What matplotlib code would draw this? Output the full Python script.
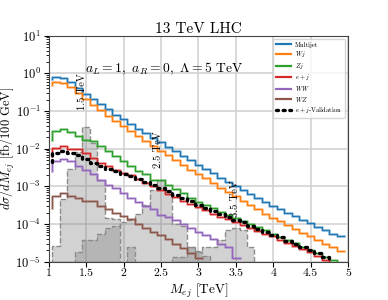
import numpy as np
import matplotlib
matplotlib.use('Agg')
import matplotlib.pyplot as plt

plt.rcParams['font.family'] = 'serif'
plt.rcParams['font.serif'] = ['cmr10', 'DejaVu Serif']
plt.rcParams['mathtext.fontset'] = 'cm'
plt.rcParams['axes.formatter.use_mathtext'] = True
plt.rcParams['axes.unicode_minus'] = False

# bin edges (step 'pre': value i fills [edge i-1, edge i])
edges = np.round(np.arange(1.05, 4.96, 0.1), 2)

multijet = [7.1e-1, 8.1e-1, 7.6e-1, 5.75e-1, 4.0e-1, 2.8e-1, 2.1e-1, 1.5e-1, 1.1e-1, 7.9e-2,
            6.0e-2, 4.6e-2, 3.4e-2, 2.6e-2, 1.95e-2, 1.48e-2, 1.12e-2, 8.5e-3, 6.5e-3, 4.9e-3,
            3.7e-3, 2.9e-3, 2.2e-3, 1.7e-3, 1.32e-3, 1.02e-3, 7.9e-4, 6.3e-4, 4.9e-4, 3.9e-4,
            3.1e-4, 2.45e-4, 2.0e-4, 1.6e-4, 1.3e-4, 1.05e-4, 8.5e-5, 6.9e-5, 5.6e-5, 4.7e-5]
wj = [5.0e-1, 6.0e-1, 5.6e-1, 4.4e-1, 3.0e-1, 2.1e-1, 1.48e-1, 1.05e-1, 7.6e-2, 5.5e-2,
      4.0e-2, 2.95e-2, 2.19e-2, 1.62e-2, 1.2e-2, 8.9e-3, 6.8e-3, 5.0e-3, 3.8e-3, 2.8e-3,
      2.14e-3, 1.62e-3, 1.23e-3, 9.3e-4, 7.1e-4, 5.4e-4, 4.2e-4, 3.2e-4, 2.45e-4, 1.9e-4,
      1.48e-4, 1.17e-4, 9.3e-5, 7.4e-5, 5.9e-5, 4.7e-5, 3.7e-5, 2.95e-5, 2.4e-5, 1.95e-5]
zj = [1.7e-2, 2.95e-2, 3.24e-2, 2.7e-2, 2.24e-2, 1.7e-2, 1.58e-2, 1.17e-2, 8.7e-3, 6.3e-3,
      4.7e-3, 3.47e-3, 2.51e-3, 2.09e-3, 1.51e-3, 1.48e-3, 1.12e-3, 8.5e-4, 6.6e-4, 5.0e-4,
      3.9e-4, 3.16e-4, 2.63e-4, 2.14e-4, 1.78e-4, 1.45e-4, 1.2e-4, 1.0e-4, 8.3e-5, 6.8e-5,
      5.6e-5, 4.6e-5, 3.8e-5, 3.1e-5, 2.5e-5, 2.04e-5, 1.66e-5, 1.35e-5, 1.1e-5, 7.9e-6]
ej = [6.3e-3, 1.07e-2, 1.17e-2, 1.0e-2, 1.0e-2, 7.8e-3, 5.75e-3, 4.3e-3, 3.47e-3, 2.8e-3,
      2.3e-3, 1.95e-3, 1.58e-3, 1.26e-3, 1.0e-3, 7.9e-4, 6.3e-4, 5.1e-4, 4.2e-4, 3.4e-4,
      2.75e-4, 2.3e-4, 1.9e-4, 1.58e-4, 1.32e-4, 1.12e-4, 9.5e-5, 7.9e-5, 6.6e-5, 5.5e-5,
      4.7e-5, 3.8e-5, 3.16e-5, 2.63e-5, 2.19e-5, 1.78e-5, 1.45e-5, 1.12e-5, 7.9e-6, 6.3e-6]
ww = [2.5e-3, 4.7e-3, 5.4e-3, 4.7e-3, 3.47e-3, 2.8e-3, 2.1e-3, 1.51e-3, 1.12e-3, 9.1e-4,
      6.8e-4, 5.0e-4, 3.8e-4, 2.95e-4, 2.45e-4, 1.78e-4, 1.58e-4, 1.26e-4, 1.0e-4, 7.9e-5,
      6.3e-5, 5.0e-5, 4.0e-5, 3.0e-5, 2.4e-5, 1.26e-5, 0, 0, 0, 0,
      0, 0, 0, 0, 0, 0, 0, 0, 0, 0]
wz = [2.7e-4, 5.5e-4, 6.5e-4, 5.5e-4, 5.0e-4, 4.2e-4, 4.0e-4, 2.95e-4, 2.45e-4, 2.0e-4,
      1.62e-4, 1.32e-4, 1.02e-4, 7.9e-5, 6.3e-5, 5.0e-5, 3.9e-5, 3.0e-5, 2.3e-5, 1.66e-5,
      1.26e-5, 0, 0, 0, 0, 0, 0, 0, 0, 0,
      0, 0, 0, 0, 0, 0, 0, 0, 0, 0]
ej_valid = [4.5e-3, 7.8e-3, 8.7e-3, 7.9e-3, 6.6e-3, 5.25e-3, 4.3e-3, 3.47e-3, 2.95e-3, 2.51e-3,
            2.19e-3, 1.86e-3, 1.55e-3, 1.32e-3, 1.1e-3, 9.1e-4, 7.4e-4, 6.0e-4, 4.9e-4, 4.0e-4,
            3.16e-4, 2.63e-4, 2.19e-4, 1.82e-4, 1.51e-4, 1.29e-4, 1.1e-4, 9.1e-5, 7.6e-5, 6.3e-5,
            5.25e-5, 4.4e-5, 3.6e-5, 3.0e-5, 2.51e-5, 2.09e-5, 1.7e-5, 1.32e-5, 8e-6, 6e-6]

sig_15 = [0, 2.6e-5, 4.5e-4, 2.95e-3, 8.3e-3, 3.7e-2, 1.45e-2, 1.45e-3, 1.41e-4, 1.32e-4,
          0, 2.5e-5, 0, 0, 0, 0, 0, 0, 0, 0,
          0, 0, 0, 0, 0, 0, 0, 0, 0, 0,
          0, 0, 0, 0, 0, 0, 0, 0, 0, 0]
sig_25 = [0, 0, 0, 0, 1.78e-5, 3.8e-5, 3.8e-5, 5.4e-5, 7.9e-5, 8.9e-5,
          1.12e-4, 1.26e-4, 1.9e-4, 3.16e-4, 8.0e-4, 1.51e-3, 7.0e-4, 1.0e-4, 8.7e-5, 2.5e-5,
          1.78e-5, 1.41e-5, 0, 0, 0, 0, 0, 0, 0, 0,
          0, 0, 0, 0, 0, 0, 0, 0, 0, 0]
sig_35 = [0, 0, 0, 0, 0, 0, 0, 0, 0, 0,
          0, 0, 0, 0, 0, 0, 0, 1.35e-5, 1.35e-5, 2.4e-5,
          1.9e-5, 2.4e-5, 2.5e-5, 3.8e-5, 7.1e-5, 7.9e-5, 7.1e-5, 2.5e-5, 0, 0,
          0, 0, 0, 0, 0, 0, 0, 0, 0, 0]

bkg = [(multijet, '#1f77b4', 'Multijet'),
       (wj, '#ff7f0e', '$Wj$'),
       (zj, '#2ca02c', '$Zj$'),
       (ej, '#d62728', '$e+j$'),
       (ww, '#9467bd', '$WW$'),
       (wz, '#8c564b', '$WZ$')]

fig = plt.figure(figsize=(3.88, 3.0), dpi=100)
ax = fig.add_axes([0.1255, 0.1277, 0.7715, 0.7533])

# signal histograms
floor = 1e-9
for sig in [sig_15, sig_25, sig_35]:
    s = np.clip(np.array(sig, dtype=float), floor, None)
    ax.fill_between(edges, floor, s, step='pre', color='grey', alpha=0.35, lw=0)
    ax.step(edges, s, where='pre', ls='--', color='#8c8c8c', lw=1.0)

for vals, col, lab in bkg:
    v = np.array(vals, dtype=float)
    v = np.where(v > 0, v, np.nan)
    ax.step(edges, v, where='pre', color=col, lw=2.0, alpha=0.4)
    ax.step(edges, v, where='pre', color=col, lw=0.9, label=lab)

ax.step(edges, ej_valid, where='pre', color='k', ls=(0, (0.6, 1.4)), lw=2.4,
        dash_capstyle='round', label='$e+j$-Validation')

ax.set_yscale('log')
ax.set_xlim(1, 5)
ax.set_ylim(1e-5, 1e1)
ax.set_xticks([1, 1.5, 2, 2.5, 3, 3.5, 4, 4.5, 5])
ax.set_xticklabels(['1', '1.5', '2', '2.5', '3', '3.5', '4', '4.5', '5'])
ax.grid(True, which='major', color='#cfcfcf', lw=1.1)
ax.set_axisbelow(True)
ax.tick_params(axis='y', labelsize=9, pad=2)
ax.tick_params(axis='x', labelsize=8.5, pad=1.5)
for sp in ax.spines.values():
    sp.set_color('#444444')

ax.set_title('13 TeV LHC', fontsize=11, pad=1)
ax.set_xlabel('$M_{ej}$ [TeV]', fontsize=9.5)
ax.xaxis.set_label_coords(0.5, -0.088)
ax.set_ylabel(r'$d\sigma/dM_{ej}$ [fb/100 GeV]', fontsize=9)
ax.yaxis.set_label_coords(-0.105, 0.5)

ax.text(1.48, 1.3, r'$a_L=1,\ a_R=0,\ \Lambda=5$ TeV', fontsize=9.8, va='center')
ax.text(1.445, 0.33, '1.5 TeV', rotation=90, fontsize=7.5, ha='center', va='center')
ax.text(2.465, 0.0095, '2.5 TeV', rotation=90, fontsize=7.5, ha='center', va='center')
ax.text(3.49, 4.6e-4, '3.5 TeV', rotation=90, fontsize=7.5, ha='center', va='center')

leg = ax.legend(loc='upper right', fontsize=4.7, handlelength=2.4, framealpha=0.8,
                borderpad=0.4, labelspacing=0.25, handletextpad=0.6)
for line in leg.get_lines()[:6]:
    line.set_linewidth(1.6)

fig.savefig('out.png', dpi=100)
